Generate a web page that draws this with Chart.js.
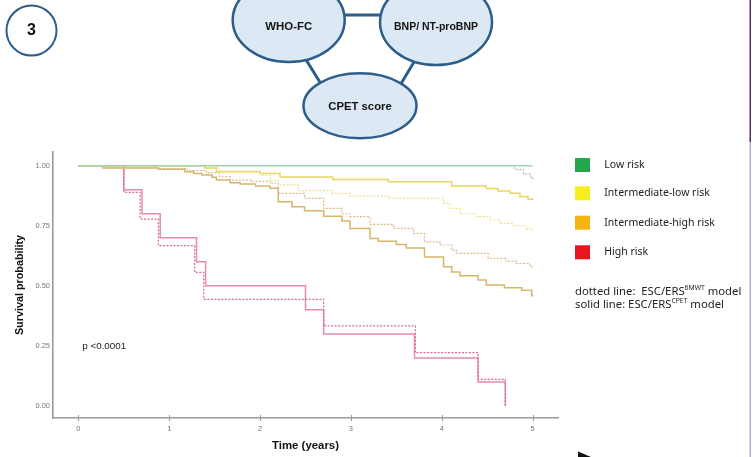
<!DOCTYPE html>
<html>
<head>
<meta charset="utf-8">
<script src="https://cdn.jsdelivr.net/npm/chart.js@4"></script>
<style>
  html, body { margin: 0; padding: 0; background: #fff; overflow: hidden; }
  #wrap { position: relative; width: 755px; height: 457px; }
</style>
</head>
<body>
<div id="wrap"><canvas id="km" width="755" height="457"></canvas></div>
<script>
// Axis ticks
const xTicks = [0, 1, 2, 3, 4, 5];
const yTicks = [0, 0.25, 0.5, 0.75, 1];

// Risk groups shown in the key
const riskGroups = ['Low risk', 'Intermediate-low risk', 'Intermediate-high risk', 'High risk'];
const groupColors = ['#22a84a', '#f7ee1e', '#f6b412', '#e8161c'];

// Kaplan-Meier estimates: event times (years) and survival after each step
// Low risk
const lowCpetTime = [0, 5];
const lowCpetSurv = [1, 1];
const low6mwtTime = [0, 4.80, 4.90, 4.98, 5.0];
const low6mwtSurv = [1, 0.985, 0.965, 0.95, 0.94];

// Intermediate-low risk
const intLowCpetTime = [0, 1.39, 1.52, 2.0, 2.22, 2.80, 3.41, 4.11, 4.49, 4.62, 4.75, 4.86, 4.95, 5.0];
const intLowCpetSurv = [1, 0.99, 0.975, 0.968, 0.953, 0.943, 0.933, 0.915, 0.905, 0.895, 0.885, 0.872, 0.86, 0.855];
const intLow6mwtTime = [0, 1.45, 1.55, 2.0, 2.11, 2.2, 2.42, 2.79, 2.99, 3.41, 4.02, 4.09, 4.20, 4.38, 4.53, 4.64, 4.79, 4.93, 5.0];
const intLow6mwtSurv = [1, 0.99, 0.978, 0.96, 0.94, 0.92, 0.896, 0.885, 0.874, 0.864, 0.843, 0.822, 0.80, 0.788, 0.774, 0.76, 0.75, 0.736, 0.73];

// Intermediate-high risk
const intHighCpetTime = [0, 0.27, 0.88, 1.17, 1.27, 1.36, 1.47, 1.52, 1.67, 1.78, 1.95, 2.11, 2.2, 2.35, 2.49, 2.70, 2.90, 2.99, 3.21, 3.30, 3.50, 3.61, 3.81, 4.02, 4.11, 4.20, 4.40, 4.49, 4.69, 4.88, 4.99, 5.0];
const intHighCpetSurv = [1, 0.99, 0.985, 0.975, 0.968, 0.961, 0.952, 0.94, 0.929, 0.924, 0.915, 0.906, 0.85, 0.829, 0.812, 0.79, 0.77, 0.739, 0.697, 0.686, 0.672, 0.658, 0.62, 0.579, 0.558, 0.542, 0.524, 0.503, 0.492, 0.482, 0.461, 0.455];
const intHigh6mwtTime = [0, 0.27, 0.88, 1.2, 1.41, 1.55, 1.67, 1.9, 2.11, 2.2, 2.49, 2.70, 2.90, 2.99, 3.21, 3.47, 3.69, 3.81, 3.98, 4.11, 4.16, 4.51, 4.71, 4.82, 4.97, 5.0];
const intHigh6mwtSurv = [1, 0.992, 0.988, 0.98, 0.97, 0.955, 0.94, 0.935, 0.927, 0.885, 0.864, 0.822, 0.80, 0.788, 0.756, 0.739, 0.718, 0.683, 0.67, 0.649, 0.635, 0.614, 0.603, 0.593, 0.58, 0.575];

// High risk
const highCpetTime = [0, 0.5, 0.7, 0.9, 1.3, 1.4, 2.5, 2.7, 3.7, 4.4, 4.7];
const highCpetSurv = [1, 0.9, 0.8, 0.7, 0.6, 0.5, 0.4, 0.3, 0.2, 0.1, 0];
const high6mwtTime = [0, 0.5, 0.68, 0.88, 1.28, 1.38, 2.7, 3.71, 4.4, 4.7];
const high6mwtSurv = [1, 0.889, 0.778, 0.667, 0.556, 0.444, 0.333, 0.222, 0.111, 0];

const pValueText = 'p <0.0001';

function toPoints(times, surv) {
  return times.map((t, i) => ({ x: t, y: surv[i] }));
}

function curve(label, times, surv, color, dotted) {
  return {
    label: label,
    data: toPoints(times, surv),
    borderColor: color,
    borderWidth: dotted ? 1.2 : 1.5,
    borderDash: dotted ? [2, 1.5] : [],
    stepped: 'before',
    pointRadius: 0,
    fill: false
  };
}

const datasets = [
  curve('Low risk (CPET)', lowCpetTime, lowCpetSurv, '#a3d9a8', false),
  curve('Low risk (6MWT)', low6mwtTime, low6mwtSurv, '#b2bbb0', true),
  curve('Intermediate-low risk (6MWT)', intLow6mwtTime, intLow6mwtSurv, '#eddf94', true),
  curve('Intermediate-low risk (CPET)', intLowCpetTime, intLowCpetSurv, '#e9d663', false),
  curve('Intermediate-high risk (6MWT)', intHigh6mwtTime, intHigh6mwtSurv, '#dbb988', true),
  curve('Intermediate-high risk (CPET)', intHighCpetTime, intHighCpetSurv, '#d8b56c', false),
  curve('High risk (6MWT)', high6mwtTime, high6mwtSurv, '#d86c92', true),
  curve('High risk (CPET)', highCpetTime, highCpetSurv, '#e88aa8', false)
];

const BLUE = '#2d5d8a';
const FILL = '#dce8f4';

// Header diagram, key, annotations
const decorations = {
  id: 'decorations',
  beforeDatasetsDraw(chart) {
    const ctx = chart.ctx;
    const xs = chart.scales.x;
    ctx.save();
    // small crossing ticks on the time axis
    ctx.strokeStyle = '#9a9a9a';
    ctx.lineWidth = 1;
    xTicks.forEach(v => {
      const px = Math.round(xs.getPixelForValue(v)) + 0.5;
      ctx.beginPath();
      ctx.moveTo(px, chart.chartArea.bottom - 3);
      ctx.lineTo(px, chart.chartArea.bottom + 3);
      ctx.stroke();
    });
    ctx.restore();
  },
  afterDraw(chart) {
    const ctx = chart.ctx;
    ctx.save();

    // numbered badge
    ctx.beginPath();
    ctx.arc(31.5, 30.5, 25, 0, Math.PI * 2);
    ctx.fillStyle = '#fff';
    ctx.fill();
    ctx.lineWidth = 2;
    ctx.strokeStyle = BLUE;
    ctx.stroke();
    ctx.fillStyle = '#111';
    ctx.font = 'bold 16px "Liberation Sans", Arial, sans-serif';
    ctx.textAlign = 'center';
    ctx.textBaseline = 'middle';
    ctx.fillText('3', 31.5, 31);

    // connectors between the three parameters
    ctx.strokeStyle = BLUE;
    ctx.lineWidth = 3;
    ctx.beginPath();
    ctx.moveTo(330, 15); ctx.lineTo(395, 15);
    ctx.moveTo(300, 50); ctx.lineTo(326, 92);
    ctx.moveTo(420, 52); ctx.lineTo(396, 92);
    ctx.stroke();

    const nodes = [
      { cx: 288.7, cy: 20, rx: 56, ry: 42, text: 'WHO-FC', size: 11.4, ty: 27 },
      { cx: 436, cy: 22, rx: 56, ry: 43, text: 'BNP/ NT-proBNP', size: 10.5, ty: 27 },
      { cx: 360, cy: 105.8, rx: 56.5, ry: 32.5, text: 'CPET score', size: 11.3, ty: 106.5 }
    ];
    nodes.forEach(n => {
      ctx.beginPath();
      ctx.ellipse(n.cx, n.cy, n.rx, n.ry, 0, 0, Math.PI * 2);
      ctx.fillStyle = FILL;
      ctx.fill();
      ctx.lineWidth = 2.5;
      ctx.strokeStyle = BLUE;
      ctx.stroke();
      ctx.fillStyle = '#141414';
      ctx.font = 'bold ' + n.size + 'px "Liberation Sans", Arial, sans-serif';
      ctx.textAlign = 'center';
      ctx.textBaseline = 'middle';
      ctx.fillText(n.text, n.cx, n.ty);
    });

    // p-value
    ctx.fillStyle = '#222';
    ctx.font = '9.8px "Liberation Sans", Arial, sans-serif';
    ctx.textAlign = 'left';
    ctx.textBaseline = 'middle';
    ctx.fillText(pValueText, 82.3, 346);

    // key
    const keyY = [165, 193.3, 222.7, 252.3];
    ctx.font = '10.5px "Noto Sans", sans-serif';
    riskGroups.forEach((g, i) => {
      ctx.fillStyle = groupColors[i];
      ctx.fillRect(575, keyY[i] - 7, 15, 14);
      ctx.fillStyle = '#222';
      ctx.fillText(g, 604.3, keyY[i]);
    });

    // line style notes with superscripts
    function noteLine(parts, x, y) {
      let cx = x;
      parts.forEach(p => {
        if (p.sup) {
          ctx.font = '6.8px "Noto Sans", sans-serif';
          ctx.fillText(p.t, cx, y - 3.5);
        } else {
          ctx.font = '11.3px "Noto Sans", sans-serif';
          ctx.fillText(p.t, cx, y);
        }
        cx += ctx.measureText(p.t).width;
      });
    }
    ctx.fillStyle = '#222';
    noteLine([{ t: 'dotted line:  ESC/ERS' }, { t: '6MWT', sup: true }, { t: ' model' }], 575, 291.7);
    noteLine([{ t: 'solid line: ESC/ERS' }, { t: 'CPET', sup: true }, { t: ' model' }], 575, 305);

    // page edge rule
    ctx.fillStyle = '#4e2c70';
    ctx.fillRect(749.5, 0, 1.5, 142);
    ctx.fillStyle = '#bba6cf';
    ctx.fillRect(749.5, 142, 1.5, 315);

    // pointer tip
    ctx.fillStyle = '#111';
    ctx.beginPath();
    ctx.moveTo(578, 451.5);
    ctx.lineTo(591, 457);
    ctx.lineTo(578, 457);
    ctx.closePath();
    ctx.fill();

    ctx.restore();
  }
};

new Chart(document.getElementById('km'), {
  type: 'line',
  data: { datasets: datasets },
  plugins: [decorations],
  options: {
    responsive: false,
    animation: false,
    layout: { padding: { left: 0, top: 152, right: 197, bottom: 0 } },
    plugins: { legend: { display: false }, tooltip: { enabled: false } },
    elements: { line: { tension: 0 }, point: { radius: 0 } },
    scales: {
      x: {
        type: 'linear',
        min: -0.28,
        max: 5.28,
        afterBuildTicks: s => { s.ticks = xTicks.map(v => ({ value: v })); },
        afterFit: s => { s.height = 39; },
        grid: { display: false, drawTicks: false },
        border: { display: true, color: '#9a9a9a', width: 1.6 },
        ticks: {
          padding: 6,
          color: '#777',
          font: { size: 7.5, family: '"Liberation Sans", Arial, sans-serif' },
          callback: v => String(v)
        },
        title: {
          display: true,
          text: 'Time (years)',
          color: '#111',
          font: { size: 11.4, weight: 'bold', family: '"Liberation Sans", Arial, sans-serif' },
          padding: { top: 0, bottom: 4 }
        }
      },
      y: {
        type: 'linear',
        min: -0.05,
        max: 1.057,
        afterBuildTicks: s => { s.ticks = yTicks.map(v => ({ value: v })); },
        afterFit: s => { s.width = 53; },
        grid: { display: false, drawTicks: false },
        border: { display: true, color: '#9a9a9a', width: 1.6 },
        ticks: {
          padding: 3,
          color: '#777',
          font: { size: 7.5, family: '"Liberation Sans", Arial, sans-serif' },
          callback: v => Number(v).toFixed(2)
        },
        title: {
          display: true,
          text: 'Survival probability',
          color: '#111',
          font: { size: 10.8, weight: 'bold', family: '"Liberation Sans", Arial, sans-serif' },
          padding: { top: 13.5, bottom: 0 }
        }
      }
    }
  }
});
</script>
</body>
</html>
